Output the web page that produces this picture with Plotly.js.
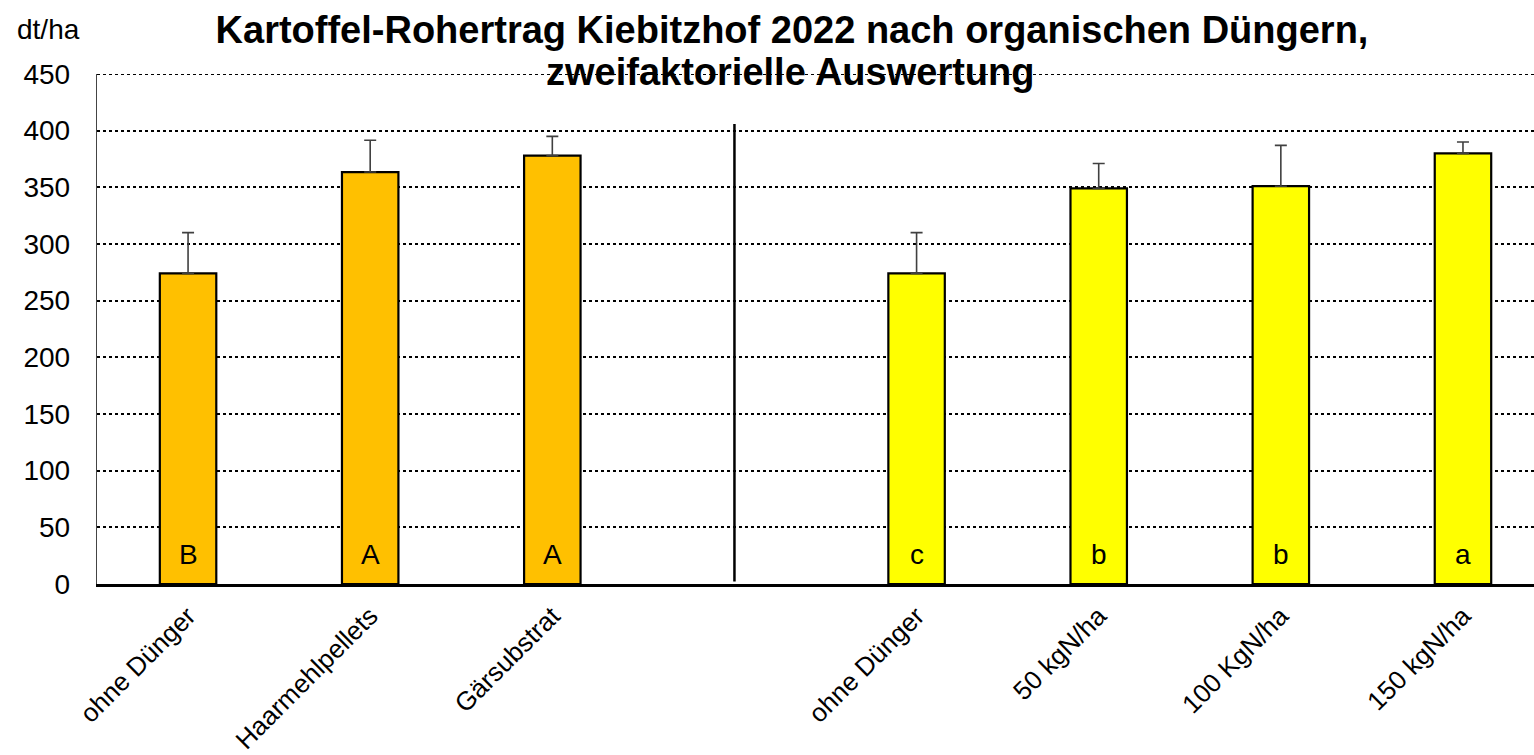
<!DOCTYPE html>
<html>
<head>
<meta charset="utf-8">
<script src="https://cdn.plot.ly/plotly-3.0.1.min.js"></script>
<style>html,body{margin:0;padding:0;background:#fff;}#chart{width:1534px;height:755px;}</style>
</head>
<body>
<div id="chart"></div>
<script>
// Group 1: organic fertilizers
const cat1 = ["ohne Dünger", "Haarmehlpellets", "Gärsubstrat"];
const val1 = [274, 363.5, 378];
const err1 = [36, 28, 17];
const sig1 = ["B", "A", "A"];
// Group 2: N rates
const cat2 = ["ohne Dünger", "50 kgN/ha", "100 KgN/ha", "150 kgN/ha"];
const val2 = [274, 349, 351, 380];
const err2 = [36, 22, 36, 10];
const sig2 = ["c", "b", "b", "a"];
const yTicks = [0, 50, 100, 150, 200, 250, 300, 350, 400, 450];
const titleLine1 = "Kartoffel-Rohertrag Kiebitzhof 2022 nach organischen Düngern,";
const titleLine2 = "zweifaktorielle Auswertung";

const pos1 = cat1.map((_, i) => i);
const gapPos = cat1.length;
const pos2 = cat2.map((_, i) => gapPos + 1 + i);
const yMax = yTicks[yTicks.length - 1];

const font = "Liberation Sans, Arial, sans-serif";
const barW = 0.31;

const tr1 = {
  type: "bar", x: pos1, y: val1, width: barW,
  marker: {color: "#FFC000", line: {color: "#000", width: 2.2}},
  error_y: {type: "data", symmetric: false, array: err1, arrayminus: err1.map(() => 0),
            color: "#404040", thickness: 1.6, width: 6},
  hoverinfo: "none", showlegend: false
};
const tr2 = {
  type: "bar", x: pos2, y: val2, width: barW,
  marker: {color: "#FFFF00", line: {color: "#000", width: 2.2}},
  error_y: {type: "data", symmetric: false, array: err2, arrayminus: err2.map(() => 0),
            color: "#404040", thickness: 1.6, width: 6},
  hoverinfo: "none", showlegend: false
};

const annotations = [];
pos1.forEach((p, i) => annotations.push({x: p, y: 0, xref: "x", yref: "y", text: sig1[i], showarrow: false,
  yanchor: "bottom", yshift: 12, font: {family: font, size: 28, color: "#000"}}));
pos2.forEach((p, i) => annotations.push({x: p, y: 0, xref: "x", yref: "y", text: sig2[i], showarrow: false,
  yanchor: "bottom", yshift: 12, font: {family: font, size: 28, color: "#000"}}));
annotations.push({xref: "paper", yref: "paper", x: -82/1437, y: 1.088, xanchor: "left", yanchor: "middle",
  text: "dt/ha", showarrow: false, font: {family: font, size: 28, color: "#000"}});
annotations.push({xref: "paper", yref: "paper", x: (790-97)/1437, y: (584-72)/510, xanchor: "center", yanchor: "middle",
  text: "<b>" + titleLine2 + "</b>", showarrow: false, font: {family: font, size: 38, color: "#000"}});

const layout = {
  width: 1534, height: 755,
  margin: {l: 97, r: 0, t: 74, b: 171, pad: 0},
  paper_bgcolor: "#fff", plot_bgcolor: "#fff",
  bargap: 0,
  title: {
    text: "<b>" + titleLine1 + "</b>",
    x: 792/1534, xanchor: "center", xref: "container",
    y: 1 - 30/755, yanchor: "middle", yref: "container",
    font: {family: font, size: 38, color: "#000"}
  },
  xaxis: {
    range: [-0.5, 7.39],
    tickvals: pos1.concat(pos2),
    ticktext: cat1.concat(cat2),
    tickangle: -45,
    tickfont: {family: font, size: 26, color: "#000"},
    showgrid: false, zeroline: false,
    showline: true, linecolor: "#000", linewidth: 2.5,
    ticks: "outside", ticklen: 4, tickcolor: "rgba(0,0,0,0)"
  },
  yaxis: {
    range: [0, yMax],
    tickvals: yTicks,
    ticktext: yTicks.map(String),
    tickfont: {family: font, size: 28, color: "#000"},
    showgrid: true, gridcolor: "#000", gridwidth: 2, griddash: "dot",
    zeroline: false,
    showline: true, linecolor: "#444", linewidth: 1.2,
    ticks: "outside", ticklen: 20, tickcolor: "rgba(0,0,0,0)"
  },
  shapes: [
    {type: "line", xref: "x", yref: "paper", x0: gapPos, x1: gapPos, y0: 0.005, y1: 0.902,
     line: {color: "#000", width: 2.5}},
    {type: "line", xref: "paper", yref: "y", x0: 0, x1: 1, y0: yMax, y1: yMax, layer: "below",
     line: {color: "#000", width: 2, dash: "dot"}}
  ],
  annotations: annotations
};

Plotly.newPlot("chart", [tr1, tr2], layout, {displayModeBar: false, staticPlot: true});
</script>
</body>
</html>
